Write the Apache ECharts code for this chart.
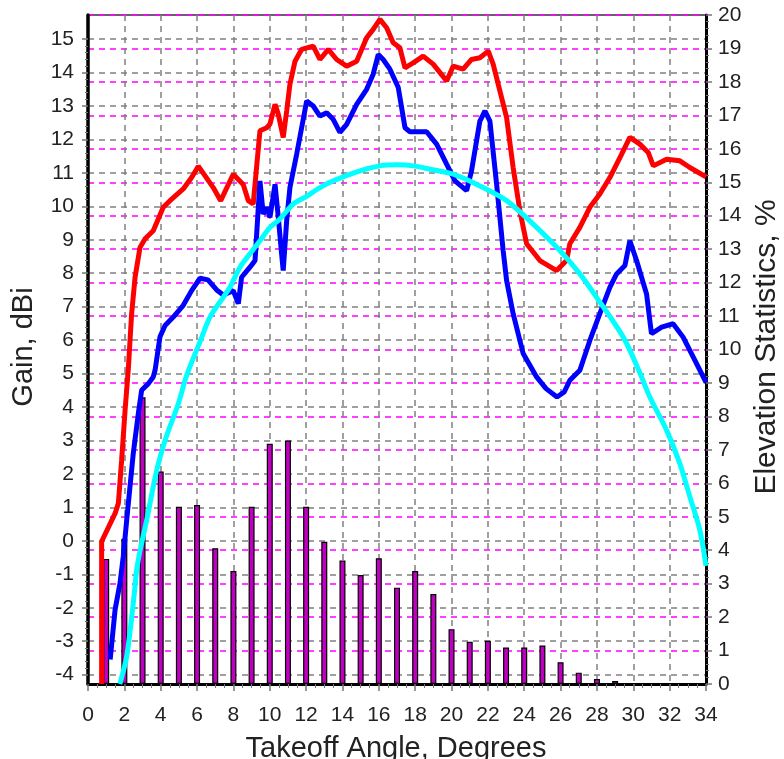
<!DOCTYPE html>
<html>
<head>
<meta charset="utf-8">
<script src="https://cdn.jsdelivr.net/npm/echarts@6/dist/echarts.min.js"></script>
<style>
html,body{margin:0;padding:0;background:#fff;}
#chart{width:784px;height:759px;}
</style>
</head>
<body>
<div id="chart"></div>
<script>
// ---- data ----
const xTicks = [0,2,4,6,8,10,12,14,16,18,20,22,24,26,28,30,32,34];
const leftTicks = [-4,-3,-2,-1,0,1,2,3,4,5,6,7,8,9,10,11,12,13,14,15];
const rightTicks = [0,1,2,3,4,5,6,7,8,9,10,11,12,13,14,15,16,17,18,19,20];

const redAngle = [0.75,0.75,1.49,1.67,1.85,2.04,2.22,2.40,2.59,2.86,3.14,3.59,4.14,4.51,5.24,5.70,6.07,6.89,7.30,7.99,8.54,8.82,9.09,9.28,9.46,9.83,10.01,10.29,10.47,10.74,10.93,11.11,11.39,11.75,12.39,12.76,13.22,13.68,14.23,14.78,15.33,15.69,16.06,16.43,16.79,17.16,17.44,17.89,18.44,18.99,19.73,20.09,20.64,21.10,21.56,22.02,22.29,22.66,23.03,23.39,23.76,24.13,24.86,25.78,26.33,26.51,27.06,27.61,28.16,28.71,29.36,29.81,30.36,30.82,31.10,31.83,32.56,33.11,34.0];
const redGain = [-4.28,-0.02,0.82,1.12,2.41,3.90,5.15,6.79,7.88,8.77,9.03,9.27,9.97,10.17,10.52,10.86,11.20,10.56,10.17,10.96,10.65,10.17,10.07,11.20,12.26,12.35,12.46,13.05,12.75,12.06,12.85,13.65,14.34,14.69,14.79,14.39,14.69,14.39,14.19,14.34,15.04,15.29,15.59,15.34,14.89,14.74,14.14,14.29,14.49,14.25,13.75,14.19,14.10,14.39,14.44,14.64,14.25,13.45,12.65,11.16,9.87,8.88,8.38,8.08,8.38,8.88,9.37,9.97,10.37,10.86,11.56,12.06,11.86,11.61,11.21,11.41,11.36,11.16,10.88];

const blueAngle = [1.22,1.49,1.76,1.94,2.13,2.31,2.49,2.77,2.95,3.32,3.59,3.69,3.96,4.24,4.69,5.24,5.70,6.16,6.60,7.08,7.44,7.99,8.27,8.45,8.91,9.19,9.46,9.64,9.83,10.01,10.29,10.47,10.65,10.74,10.93,11.11,11.48,11.84,12.03,12.39,12.76,13.13,13.49,13.86,14.23,14.78,15.33,15.69,15.97,16.24,16.61,17.07,17.44,17.71,18.63,19.18,19.73,20.19,20.83,21.10,21.56,21.84,22.11,22.48,22.84,23.03,23.39,23.94,24.68,25.20,25.80,26.20,26.51,27.06,27.61,28.16,28.71,29.08,29.54,29.81,30.18,30.73,31.00,31.56,32.19,32.74,33.30,34.0];
const blueGain = [-3.55,-2.06,-1.27,-0.47,0.62,1.62,2.61,3.81,4.50,4.70,4.90,5.10,6.10,6.44,6.69,7.04,7.48,7.85,7.80,7.50,7.35,7.48,7.09,7.88,8.18,8.38,10.76,9.77,9.97,9.67,10.66,9.67,8.58,8.08,9.57,10.56,11.56,12.60,13.15,13.00,12.70,12.80,12.60,12.21,12.45,13.05,13.50,13.95,14.54,14.39,14.10,13.55,12.35,12.23,12.23,11.86,11.26,10.76,10.47,11.06,12.55,12.85,12.55,10.66,8.68,7.78,6.79,5.60,4.90,4.55,4.30,4.45,4.80,5.10,5.99,6.79,7.58,7.98,8.23,8.97,8.38,7.38,6.19,6.39,6.49,6.09,5.49,4.74];

const cyanAngle = [1.75,2.13,2.49,2.68,2.86,3.23,3.78,4.30,4.97,5.43,6.16,6.71,7.44,7.81,8.36,8.91,9.46,10.01,10.56,11.29,12.03,12.76,13.49,14.96,16.06,17.00,17.89,18.81,20.09,21.56,23.03,24.49,25.96,27.06,27.98,29.45,30.30,30.91,31.83,32.56,33.11,33.66,34.0];
const cyanGain = [-4.28,-3.45,-1.86,-0.87,-0.30,0.62,2.11,3.10,4.10,4.95,5.95,6.69,7.28,7.58,8.18,8.58,8.97,9.37,9.62,10.07,10.30,10.56,10.76,11.06,11.21,11.24,11.21,11.11,10.96,10.61,10.17,9.47,8.68,7.98,7.28,6.09,5.10,4.30,3.31,2.31,1.32,0.32,-0.75];

const barAngle = [1,2,3,4,5,6,7,8,9,10,11,12,13,14,15,16,17,18,19,20,21,22,23,24,25,26,27,28,29];
const barPct = [3.74,4.34,8.57,6.35,5.30,5.35,4.06,3.38,5.30,7.18,7.28,5.30,4.25,3.69,3.26,3.76,2.88,3.38,2.69,1.64,1.26,1.29,1.09,1.09,1.15,0.65,0.34,0.15,0.09];

// ---- layout ----
const W = 784, H = 759;
const plotL = 88, plotR = 706, plotT = 15, plotB = 684;
const gainMin = -4.28, gainMax = 15.72;
const pxPerDb = (plotB - plotT) / (gainMax - gainMin);
const yOfGain = g => plotB - (g - gainMin) * pxPerDb;

const zip = (a, b) => a.map((v, i) => [v, b[i]]);
const font = 'Liberation Sans, Arial, sans-serif';
const labelColor = '#222';

const chart = echarts.init(document.getElementById('chart'), null, {renderer: 'canvas'});

const option = {
  animation: false,
  backgroundColor: '#fff',
  grid: [
    {left: plotL, right: W - plotR, top: plotT, bottom: H - plotB, show: true, borderColor: '#333', borderWidth: 1.5, backgroundColor: 'transparent'},
    {left: plotL, right: W - plotR, top: yOfGain(leftTicks[leftTicks.length-1]), bottom: H - yOfGain(leftTicks[0])}
  ],
  xAxis: [
    {
      gridIndex: 0, type: 'value', min: xTicks[0], max: xTicks[xTicks.length-1], interval: 2,
      axisLine: {show: true, onZero: false, lineStyle: {color: '#000', width: 3}},
      axisTick: {show: true, length: 7, lineStyle: {color: '#777', width: 1.5}},
      minorTick: {show: true, splitNumber: 4, length: 4, lineStyle: {color: '#777', width: 1}},
      axisLabel: {fontSize: 21, fontFamily: font, color: labelColor, margin: 21},
      splitLine: {show: true, lineStyle: {color: '#808080', width: 1.5, type: [6, 5]}}
    },
    {gridIndex: 1, type: 'value', min: xTicks[0], max: xTicks[xTicks.length-1], show: false}
  ],
  yAxis: [
    {
      gridIndex: 0, type: 'value', position: 'left', min: gainMin, max: gainMax,
      axisLine: {show: true, onZero: false, lineStyle: {color: '#000', width: 3.5}},
      axisTick: {show: false}, axisLabel: {show: false}, splitLine: {show: false}
    },
    {
      gridIndex: 0, type: 'value', position: 'right', min: rightTicks[0], max: rightTicks[rightTicks.length-1], interval: 1,
      axisLine: {show: true, onZero: false, lineStyle: {color: '#000', width: 3}},
      axisTick: {show: true, length: 6, lineStyle: {color: '#777', width: 1.5}},
      minorTick: {show: true, splitNumber: 5, length: 3, lineStyle: {color: '#777', width: 1}},
      axisLabel: {fontSize: 21, fontFamily: font, color: labelColor, margin: 12},
      splitLine: {show: true, lineStyle: {color: '#ff00ff', width: 1.5, type: [6, 5]}}
    },
    {
      gridIndex: 1, type: 'value', position: 'left', min: leftTicks[0], max: leftTicks[leftTicks.length-1], interval: 1,
      axisLine: {show: false},
      axisTick: {show: true, length: 6, lineStyle: {color: '#777', width: 1.5}},
      minorTick: {show: true, splitNumber: 5, length: 3, lineStyle: {color: '#777', width: 1}},
      axisLabel: {fontSize: 21, fontFamily: font, color: labelColor, margin: 14},
      splitLine: {show: true, lineStyle: {color: '#808080', width: 1.5, type: [6, 5]}}
    }
  ],
  graphic: [
    {type: 'text', x: 24, y: 347, rotation: Math.PI / 2, z: 10,
     style: {text: 'Gain, dBi', font: '29px ' + font, fill: '#222', textAlign: 'center', textVerticalAlign: 'middle', verticalAlign: 'middle'}},
    {type: 'text', x: 767, y: 347, rotation: Math.PI / 2, z: 10,
     style: {text: 'Elevation Statistics, %', font: '30px ' + font, fill: '#222', textAlign: 'center', textVerticalAlign: 'middle', verticalAlign: 'middle'}},
    {type: 'text', x: 396, y: 749, z: 10,
     style: {text: 'Takeoff Angle, Degrees', font: '29px ' + font, fill: '#222', textAlign: 'center', textVerticalAlign: 'middle', verticalAlign: 'middle'}}
  ],
  series: [
    {
      name: 'Elevation Statistics', type: 'bar', xAxisIndex: 0, yAxisIndex: 1,
      data: zip(barAngle, barPct), barWidth: 6,
      itemStyle: {color: '#c000c0', borderColor: '#000', borderWidth: 1.2}, z: 3
    },
    {
      name: 'Red', type: 'line', xAxisIndex: 0, yAxisIndex: 0, data: zip(redAngle, redGain),
      showSymbol: false, symbol: 'none', lineStyle: {color: '#ff0000', width: 5}, z: 4
    },
    {
      name: 'Blue', type: 'line', xAxisIndex: 0, yAxisIndex: 0, data: zip(blueAngle, blueGain),
      showSymbol: false, symbol: 'none', lineStyle: {color: '#0000ff', width: 5}, z: 5
    },
    {
      name: 'Cyan', type: 'line', xAxisIndex: 0, yAxisIndex: 0, data: zip(cyanAngle, cyanGain),
      showSymbol: false, symbol: 'none', smooth: 0.3, lineStyle: {color: '#00ffff', width: 5}, z: 6
    }
  ]
};
chart.setOption(option);
</script>
</body>
</html>
